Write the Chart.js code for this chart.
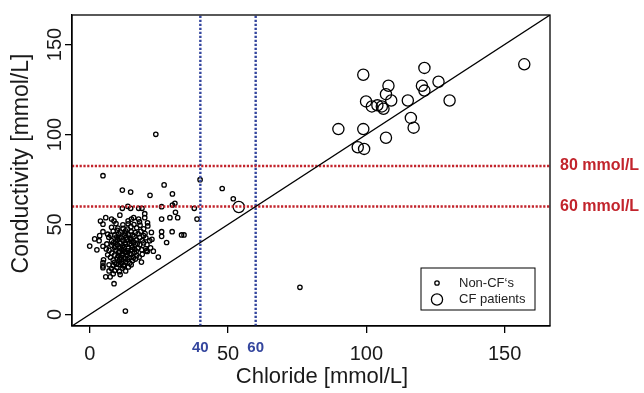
<!DOCTYPE html>
<html>
<head>
<meta charset="utf-8">
<script src="https://cdn.jsdelivr.net/npm/chart.js@4.4.1/dist/chart.umd.min.js"></script>
<style>
    body { margin: 0; background: #fff; }
</style>
</head>
<body>
<canvas id="sweat-chart" width="644" height="393"></canvas>
<script>
// chloride vs conductivity, [chloride, conductivity] in mmol/L
const nonCfPoints = [
    [23.9,100.1],[4.8,77.1],[11.8,69.1],[14.8,68.0],[21.8,66.2],[26.9,72.0],[29.9,67.0],[39.9,74.9],
    [47.9,70.0],[51.9,64.3],[30.8,61.8],[29.9,60.8],[26.0,59.9],[37.8,59.0],[31.0,56.8],[29.0,53.8],
    [31.8,53.8],[26.0,53.0],[38.8,53.0],[13.8,60.1],[11.8,59.0],[14.8,59.0],[17.7,59.0],[18.9,59.0],
    [19.9,56.0],[10.9,55.2],[5.8,53.8],[3.9,51.9],[7.9,53.0],[8.8,52.0],[13.9,52.0],[15.1,53.0],
    [15.9,53.8],[17.7,53.0],[18.0,51.5],[20.9,50.9],[19.9,53.8],[76.0,15.1],[12.9,1.9],[26.0,46.0],
    [26.0,43.4],[29.8,46.0],[27.8,40.0],[33.2,44.2],[34.1,44.2],[24.8,31.9],[18.7,29.1],[22.3,45.6],
    [21.7,41.0],[20.5,35.5],[0.0,38.0],[8.8,17.1],[5.8,20.9],[7.4,20.9],
    [4.8,50.2],[9.5,50.5],[12.0,49.8],[13.9,50.4],[16.0,50.0],[18.2,49.6],[21.0,49.2],
    [7.9,48.4],[10.2,48.0],[12.1,47.8],[14.9,48.8],[17.0,48.2],[19.5,47.6],
    [4.8,46.0],[8.5,46.3],[11.0,45.8],[13.0,46.5],[15.0,46.0],[16.5,45.5],[18.5,46.2],[20.0,45.0],
    [6.5,44.6],[9.0,44.2],[10.5,44.8],[12.5,44.0],[14.0,44.5],[15.5,44.2],[17.5,44.8],[19.5,43.8],
    [3.6,43.8],[6.9,42.9],[9.8,43.2],[11.5,42.6],[13.2,43.0],[14.6,42.4],[16.0,43.3],[18.0,42.8],[20.3,42.6],
    [1.8,42.0],[3.4,41.0],[7.9,41.0],[10.0,41.6],[12.0,41.2],[13.5,41.8],[15.0,40.8],[17.0,41.4],[19.0,41.0],[22.5,41.8],
    [8.5,39.8],[9.5,40.3],[11.0,39.6],[12.8,40.0],[14.5,39.4],[15.8,40.2],[17.2,39.6],[19.5,39.8],
    [4.8,37.9],[8.0,38.5],[10.0,38.8],[11.8,38.2],[13.0,38.9],[15.0,38.4],[16.5,38.8],[18.1,38.8],[20.7,38.8],
    [6.0,36.4],[9.0,37.2],[11.0,37.0],[12.5,37.4],[14.0,36.8],[15.5,37.3],[17.5,37.0],[22.0,37.0],
    [2.6,35.9],[7.0,35.6],[9.5,35.8],[10.8,35.2],[12.3,35.9],[13.8,35.4],[15.0,35.8],[16.8,35.2],[20.2,36.6],[20.8,35.0],[23.0,35.2],
    [8.0,34.2],[10.5,34.5],[11.8,33.8],[13.0,34.4],[14.5,33.9],[16.2,34.4],
    [6.5,33.2],[9.0,33.0],[10.3,32.6],[12.0,33.0],[13.5,32.8],[15.0,33.2],[17.0,32.8],[19.0,33.4],
    [7.5,31.8],[10.0,31.4],[11.3,31.9],[12.8,31.2],[14.3,31.6],[17.9,31.9],
    [5.0,30.4],[8.5,30.2],[10.8,30.6],[12.0,29.8],[13.7,30.4],[15.5,30.0],[16.5,30.8],
    [4.8,28.8],[9.0,29.0],[11.5,28.6],[13.0,29.2],[14.5,28.6],
    [4.8,27.0],[7.0,27.6],[8.5,27.2],[10.5,27.8],[12.5,27.4],[15.0,27.6],
    [4.8,26.0],[7.9,25.5],[9.8,26.2],[11.8,25.8],[14.0,26.4],
    [7.0,24.2],[9.0,24.4],[10.8,23.8],[13.0,24.2],
    [8.5,22.6],[11.0,22.2],
    [10.0,46.8],[13.6,47.4],[11.6,36.0],[14.8,41.6],[9.2,38.0],[12.6,34.8],[16.2,36.2],[10.6,42.6],
    [13.0,45.2],[11.4,30.6],[9.6,28.0],[12.2,27.0],[18.8,36.0],[6.2,39.2],[7.6,44.0],[15.8,31.6]
];

const cfPoints = [
    [98.9,133.2],[121.0,137.0],[157.1,139.0],[108.0,127.1],[107.1,122.4],[120.1,127.1],
    [126.1,129.3],[121.0,124.4],[109.0,118.9],[99.9,118.4],[102.0,115.6],[104.0,116.2],
    [105.6,115.6],[106.2,114.3],[115.0,118.9],[130.1,118.9],[116.1,109.2],[117.1,103.8],
    [89.9,103.0],[98.9,103.0],[107.1,98.2],[96.9,92.9],[99.2,92.0],[53.9,59.7]
];

const axisTicks = [0, 50, 100, 150];
const axisMin = -6.4;
const axisMax = 166.4;

// conductivity cut-offs (line value, label)
const conductivityLines = [82.5, 60];
const conductivityLabels = ['80 mmol/L', '60 mmol/L'];
// chloride cut-offs
const chlorideLines = [40, 60];
const chlorideLabels = ['40', '60'];

const fontName = '"Liberation Sans", Arial, Helvetica, sans-serif';
const red = 'rgb(194, 36, 44)';
const blue = 'rgb(52, 70, 158)';

const toXY = pts => pts.map(p => ({ x: p[0], y: p[1] }));

let datasets = [];

datasets.push({
    label: 'identity',
    data: [{ x: axisMin, y: axisMin }, { x: axisMax, y: axisMax }],
    showLine: true,
    borderColor: '#000',
    borderWidth: 1.3,
    pointRadius: 0
});

for (const v of conductivityLines) {
    datasets.push({
        label: 'cond ' + v,
        data: [{ x: axisMin, y: v }, { x: axisMax, y: v }],
        showLine: true,
        borderColor: red,
        borderWidth: 2.6,
        borderDash: [2.2, 1.6],
        pointRadius: 0
    });
}

for (const v of chlorideLines) {
    datasets.push({
        label: 'cl ' + v,
        data: [{ x: v, y: axisMin }, { x: v, y: axisMax }],
        showLine: true,
        borderColor: blue,
        borderWidth: 2.4,
        borderDash: [2.2, 1.8],
        pointRadius: 0
    });
}

datasets.push({
    label: "Non-CF's",
    data: toXY(nonCfPoints),
    pointRadius: 2.2,
    pointBorderWidth: 1.3,
    pointBorderColor: '#000',
    pointBackgroundColor: 'rgba(0,0,0,0)'
});

datasets.push({
    label: 'CF patients',
    data: toXY(cfPoints),
    pointRadius: 5.6,
    pointBorderWidth: 1.3,
    pointBorderColor: '#000',
    pointBackgroundColor: 'rgba(0,0,0,0)'
});

const setTicks = axis => {
    axis.ticks = axisTicks.map(v => ({ value: v }));
};

const decorations = {
    id: 'decorations',
    afterDraw(chart) {
        const ctx = chart.ctx;
        const area = chart.chartArea;
        const xs = chart.scales.x;
        const ys = chart.scales.y;

        ctx.save();

        // box round the plot
        ctx.strokeStyle = '#000';
        ctx.lineWidth = 1.3;
        ctx.strokeRect(area.left, area.top, area.right - area.left, area.bottom - area.top);

        // y tick labels, rotated like R
        ctx.fillStyle = '#1a1a1a';
        ctx.font = '20px ' + fontName;
        ctx.textAlign = 'center';
        ctx.textBaseline = 'middle';
        for (const v of axisTicks) {
            ctx.save();
            ctx.translate(55, ys.getPixelForValue(v));
            ctx.rotate(-Math.PI / 2);
            ctx.fillText(String(v), 0, 0);
            ctx.restore();
        }

        // axis titles
        ctx.font = '22px ' + fontName;
        ctx.fillText('Chloride [mmol/L]', (area.left + area.right) / 2 + 11, 377);
        ctx.save();
        ctx.font = '23px ' + fontName;
        ctx.translate(22, (area.top + area.bottom) / 2 - 7);
        ctx.rotate(-Math.PI / 2);
        ctx.fillText('Conductivity [mmol/L]', 0, 0);
        ctx.restore();

        // cut-off labels
        ctx.font = 'bold 16px ' + fontName;
        ctx.fillStyle = red;
        ctx.textAlign = 'left';
        conductivityLines.forEach((v, i) => {
            ctx.fillText(conductivityLabels[i], area.right + 10, ys.getPixelForValue(v));
        });

        ctx.font = 'bold 15px ' + fontName;
        ctx.fillStyle = blue;
        ctx.textAlign = 'center';
        chlorideLines.forEach((v, i) => {
            ctx.fillText(chlorideLabels[i], xs.getPixelForValue(v), 348);
        });

        // legend
        const lx = 421, ly = 268, lw = 114, lh = 42;
        ctx.fillStyle = '#fff';
        ctx.fillRect(lx, ly, lw, lh);
        ctx.strokeStyle = '#000';
        ctx.lineWidth = 1;
        ctx.strokeRect(lx, ly, lw, lh);

        ctx.lineWidth = 1.3;
        ctx.beginPath();
        ctx.arc(lx + 16, ly + 15, 2.2, 0, Math.PI * 2);
        ctx.stroke();
        ctx.beginPath();
        ctx.arc(lx + 16, ly + 31.5, 5.6, 0, Math.PI * 2);
        ctx.stroke();

        ctx.fillStyle = '#222';
        ctx.font = '13px ' + fontName;
        ctx.textAlign = 'left';
        ctx.fillText('Non-CF\u2018s', lx + 38, ly + 15);
        ctx.fillText('CF patients', lx + 38, ly + 31.5);

        ctx.restore();
    }
};

let ctx = document.getElementById('sweat-chart');

let sweatChart = new Chart(ctx, {
    type: 'scatter',
    data: { datasets },
    options: {
        responsive: false,
        animation: false,
        devicePixelRatio: 1,
        layout: {
            padding: { top: 12, right: 94, bottom: 0, left: 0 }
        },
        plugins: {
            legend: { display: false },
            tooltip: { enabled: false }
        },
        scales: {
            x: {
                type: 'linear',
                min: axisMin,
                max: axisMax,
                afterBuildTicks: setTicks,
                afterFit: s => { s.height = 67; },
                border: { display: true, color: '#000', width: 1.3 },
                grid: { display: true, drawOnChartArea: false, drawTicks: true, tickLength: 7, color: '#000', lineWidth: 1.3 },
                ticks: {
                    color: '#1a1a1a',
                    padding: 9,
                    maxRotation: 0,
                    font: { family: fontName, size: 20 }
                }
            },
            y: {
                type: 'linear',
                min: axisMin,
                max: axisMax,
                afterBuildTicks: setTicks,
                afterFit: s => { s.width = 72; },
                border: { display: true, color: '#000', width: 1.3 },
                grid: { display: true, drawOnChartArea: false, drawTicks: true, tickLength: 7, color: '#000', lineWidth: 1.3 },
                ticks: {
                    callback: () => '',
                    font: { family: fontName, size: 20 }
                }
            }
        }
    },
    plugins: [decorations]
});
</script>
</body>
</html>
